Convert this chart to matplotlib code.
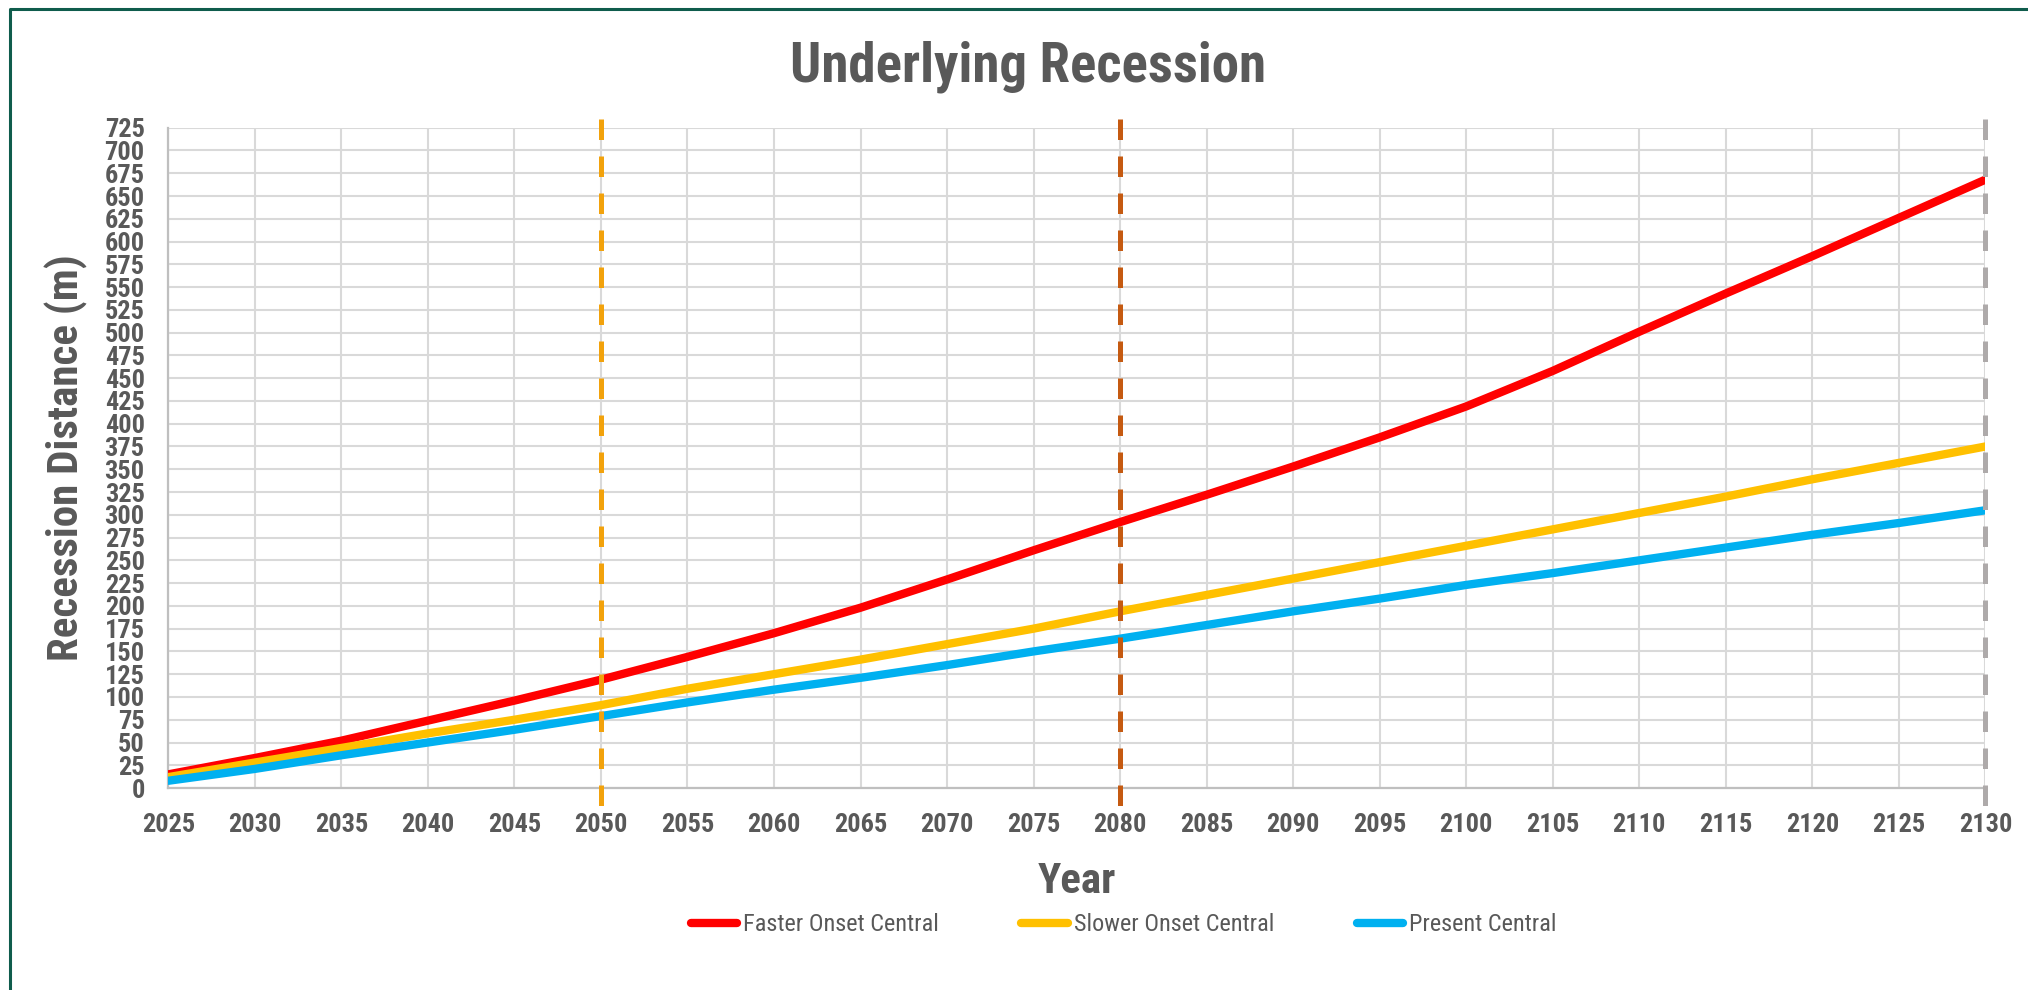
import matplotlib
matplotlib.use("Agg")
import matplotlib.pyplot as plt
from matplotlib import font_manager as fm
from matplotlib.lines import Line2D

# recession distance (m), every 5 years
years = list(range(2025, 2131, 5))
faster = [15, 33, 52, 74, 96, 119, 144, 170, 198, 229, 261, 292, 322, 353, 385, 419, 458, 501, 543, 584, 626, 668]
slower = [12, 28, 44, 60, 75, 91, 109, 125, 141, 158, 175, 194, 212, 230, 248, 266, 284, 302, 320, 339, 357, 375]
present = [8, 21, 36, 50, 64, 79, 94, 108, 121, 135, 150, 164, 179, 194, 208, 223, 236, 250, 264, 278, 291, 305]
series_names = ["Faster Onset Central", "Slower Onset Central", "Present Central"]
series_colors = ["#FF0000", "#FFC000", "#00B0F0"]

marker_years = [2050, 2080, 2130]
marker_colors = ["#F2A20C", "#C55A11", "#AEAAAA"]

TXT = "#595959"

# pick a narrow sans like the one excel used
have = set(f.name for f in fm.fontManager.ttflist)
narrow = "DejaVu Sans"
for nm in ["Arial Narrow", "Liberation Sans Narrow", "Roboto Condensed", "Archivo Narrow",
           "PT Sans Narrow", "IBM Plex Sans Condensed"]:
    if nm in have:
        narrow = nm
        break
fam = [narrow, "DejaVu Sans"]

fig = plt.figure(figsize=(20.28, 9.9), dpi=100)
ax = fig.add_axes([0.083, 0.204, 0.896, 0.667])

for vals, name, col in zip([faster, slower, present], series_names, series_colors):
    ax.plot(years, vals, color=col, lw=6, label=name, solid_capstyle="round", zorder=3)

for yr, col in zip(marker_years, marker_colors):
    ax.plot([yr, yr], [735, -20], color=col, lw=3.6, dashes=(4.1, 3.3),
            clip_on=False, zorder=4)

ax.set_xlim(2025, 2130)
ax.set_ylim(0, 725)
ax.set_xticks(range(2025, 2131, 5))
ax.set_yticks(range(0, 726, 25))
ax.grid(True, color="#D9D9D9", lw=1.5)
ax.set_axisbelow(True)
for s in ["top", "right"]:
    ax.spines[s].set_visible(False)
for s in ["left", "bottom"]:
    ax.spines[s].set_color("#BFBFBF")
    ax.spines[s].set_linewidth(1.6)
ax.tick_params(length=0, colors=TXT)
ax.tick_params(axis="x", pad=18)
ax.tick_params(axis="y", pad=17)
for lab in ax.get_xticklabels() + ax.get_yticklabels():
    lab.set_family(fam)
    lab.set_fontweight("bold")
    lab.set_fontsize(19)
    lab.set_color(TXT)

ax.set_xlabel("Year", family=fam, fontweight="bold", fontsize=31, color=TXT, labelpad=17)
ax.set_ylabel("Recession Distance (m)", family=fam, fontweight="bold", fontsize=31,
              color=TXT, labelpad=12)

fig.text(0.507, 0.933, "Underlying Recession", family=fam, fontweight="bold",
         fontsize=39.5, color=TXT, ha="center", va="center")

leg = fig.legend(loc="center", bbox_to_anchor=(0.554, 0.066), ncol=3, frameon=False,
                 prop={"family": fam, "size": 17.5}, handlelength=1.9,
                 handletextpad=0.25, columnspacing=3.4)
for t in leg.get_texts():
    t.set_color(TXT)

# outer chart border (left and top edges visible)
bx = 10 / 2028
by = 1 - 9 / 990
fig.add_artist(Line2D([bx, bx, 1], [0, by, by], transform=fig.transFigure,
                      color="#0F5C4C", lw=2.2))

fig.savefig("out.png", dpi=100)
